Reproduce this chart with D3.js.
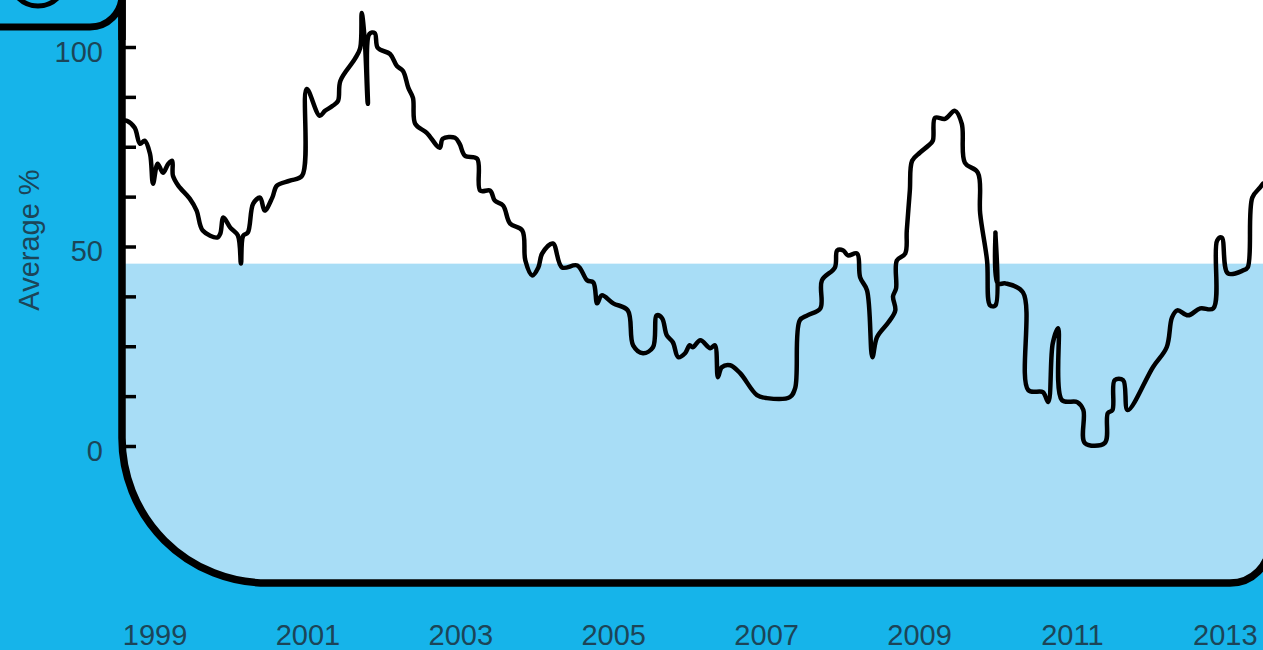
<!DOCTYPE html>
<html>
<head>
<meta charset="utf-8">
<script src="https://cdn.jsdelivr.net/npm/d3@7"></script>
<style>
  html, body { margin: 0; padding: 0; background: #16b4ea; overflow: hidden; }
  svg { display: block; }
  text { font-family: "Liberation Sans", Arial, sans-serif; }
</style>
</head>
<body>
<svg id="chart" width="1263" height="650"></svg>
<script>
// ---- data (decimal year, average %) ----
const years = [
  1998.60, 1998.64, 1998.74, 1998.81, 1998.87, 1998.94, 1998.98, 1999.04, 1999.11, 1999.18,
  1999.23, 1999.24, 1999.31, 1999.46, 1999.55, 1999.63, 1999.82, 1999.86, 1999.90, 1999.99,
  2000.09, 2000.13, 2000.16, 2000.22, 2000.29, 2000.38, 2000.44, 2000.54, 2000.60, 2000.77,
  2000.93, 2000.99, 2001.16, 2001.23, 2001.33, 2001.40, 2001.43, 2001.62, 2001.69, 2001.71,
  2001.75, 2001.79, 2001.81, 2001.88, 2001.92, 2002.08, 2002.17, 2002.25, 2002.32, 2002.38,
  2002.41, 2002.56, 2002.73, 2002.77, 2002.93, 2002.99, 2003.06, 2003.22, 2003.26, 2003.39,
  2003.45, 2003.56, 2003.65, 2003.81, 2003.85, 2003.94, 2004.02, 2004.07, 2004.21, 2004.33,
  2004.53, 2004.66, 2004.74, 2004.79, 2004.85, 2005.00, 2005.19, 2005.26, 2005.39, 2005.52,
  2005.57, 2005.64, 2005.70, 2005.78, 2005.85, 2005.94, 2006.00, 2006.04, 2006.14, 2006.27,
  2006.33, 2006.37, 2006.42, 2006.53, 2006.66, 2006.88, 2007.01, 2007.31, 2007.38, 2007.44,
  2007.54, 2007.71, 2007.73, 2007.90, 2007.93, 2008.01, 2008.07, 2008.19, 2008.23, 2008.32,
  2008.39, 2008.45, 2008.60, 2008.69, 2008.66, 2008.70, 2008.71, 2008.82, 2008.84, 2008.88,
  2008.91, 2009.01, 2009.12, 2009.18, 2009.21, 2009.34, 2009.47, 2009.56, 2009.60, 2009.77,
  2009.80, 2009.89, 2009.93, 2010.00, 2010.00, 2010.03, 2010.13, 2010.36, 2010.43, 2010.62,
  2010.69, 2010.75, 2010.82, 2010.87, 2011.07, 2011.15, 2011.17, 2011.43, 2011.47, 2011.53,
  2011.56, 2011.67, 2011.73, 2012.06, 2012.24, 2012.31, 2012.38, 2012.52, 2012.68, 2012.85,
  2012.90, 2012.96, 2013.04, 2013.24, 2013.30, 2013.36, 2013.46, 2013.50
];
const values = [
  81.5, 81.5, 79.75, 75.75, 76.5, 73.25, 65.75, 70.75, 68.5, 70.75,
  71.5, 67.75, 65.25, 62, 59, 54, 52.25, 53.25, 57.25, 54.75,
  52.75, 45.75, 52.75, 53.5, 60.75, 62.25, 59, 62.25, 65.25, 66.5,
  67.75, 89.5, 82.75, 84, 85.25, 86.5, 91.5, 97, 99.75, 108.5,
  101.5, 85.75, 103.25, 103.5, 99.75, 98.25, 95.25, 94, 89.75, 87.25,
  80.75, 78.5, 74.75, 77, 77.25, 75.75, 72.75, 72, 64, 64,
  61.5, 60.25, 55.75, 54, 46.5, 42.75, 44.75, 48.25, 50.75, 44.75,
  45.25, 41.5, 41, 35.75, 37.75, 35.75, 34, 25.25, 23.25, 24.75,
  32.75, 32, 27.75, 26, 22.25, 23.25, 25.25, 24.75, 26.5, 24.5,
  25.25, 17.25, 19.75, 20.25, 18.25, 12.75, 12, 12.25, 14.5, 31.5,
  32.75, 34.5, 41.5, 44.75, 49, 49, 47.75, 48.25, 42.25, 39,
  22.25, 27.25, 31, 34, 37.5, 39.5, 46.5, 48.25, 54, 64,
  71.5, 73.5, 75.25, 76.5, 82.25, 82, 84, 80.75, 71, 68.5,
  58.25, 46.5, 35.25, 35.25, 53.5, 40.75, 40.75, 38.5, 14, 13.5,
  11, 25.75, 29.5, 11.5, 11, 9, 0.75, 0.75, 8.25, 9,
  16.5, 16.5, 9, 19.75, 24.75, 32.25, 34, 32.75, 34.5, 34.5,
  51.5, 52.25, 43.25, 44, 44.75, 62.25, 64.75, 65.75
];
const xTickYears = [1999, 2001, 2003, 2005, 2007, 2009, 2011, 2013];
const yLabelTicks = [0, 50, 100];
const yMinorTicks = [0, 12.5, 25, 37.5, 50, 62.5, 75, 87.5, 100];
const shadeLevel = 45.7;
const yTitle = "Average %";

// ---- layout ----
const W = 1263, H = 650;
const axisX = 122, bottomY = 583;
const BLUE = "#16b4ea", PALE = "#a8ddf6", INK = "#1c4558";

const svg = d3.select("#chart");
const x = d3.scaleLinear().domain([1998.6, 2013.5]).range([124, 1263]);
const y = d3.scaleLinear().domain([0, 100]).range([446, 47]);

svg.append("rect").attr("width", W).attr("height", H).attr("fill", BLUE);

const R1 = 145, R2 = 40, rightX = 1270;
const panelPath = `M${axisX},-20 L${axisX},${bottomY - R1} A${R1},${R1} 0 0 0 ${axisX + R1},${bottomY}
  L${rightX - R2},${bottomY} A${R2},${R2} 0 0 0 ${rightX},${bottomY - R2} L${rightX},-20 Z`;

svg.append("defs").append("clipPath").attr("id", "panelClip")
  .append("path").attr("d", panelPath);

svg.append("path").attr("d", panelPath).attr("fill", "#ffffff");

const inner = svg.append("g").attr("clip-path", "url(#panelClip)");
inner.append("rect")
  .attr("x", axisX).attr("y", y(shadeLevel))
  .attr("width", W).attr("height", H - y(shadeLevel))
  .attr("fill", PALE);

const line = d3.line().x((d, i) => x(years[i])).y(d => y(d)).curve(d3.curveCatmullRom.alpha(0.5));
inner.append("path")
  .attr("d", line(values))
  .attr("fill", "none").attr("stroke", "#000")
  .attr("stroke-width", 4.5).attr("stroke-linejoin", "round").attr("stroke-linecap", "round");

// panel border
svg.append("path").attr("d", panelPath).attr("fill", "none")
  .attr("stroke", "#000").attr("stroke-width", 7.5);

// top-left box with ring
svg.append("rect").attr("x", -40).attr("y", -60).attr("width", axisX + 40).attr("height", 87)
  .attr("rx", 32).attr("fill", BLUE).attr("stroke", "#000").attr("stroke-width", 7);
svg.append("circle").attr("cx", 38).attr("cy", -22).attr("r", 28)
  .attr("fill", "none").attr("stroke", "#000").attr("stroke-width", 5);
svg.append("line").attr("x1", axisX).attr("x2", axisX).attr("y1", -5).attr("y2", 40)
  .attr("stroke", "#000").attr("stroke-width", 7.5);

// minor ticks
const tickAxis = d3.axisRight(y).tickValues(yMinorTicks).tickSize(14).tickFormat("");
const tg = svg.append("g").attr("transform", `translate(${axisX},0)`).call(tickAxis);
tg.select(".domain").remove();
tg.selectAll(".tick line").attr("stroke", "#000").attr("stroke-width", 3.5);

// y labels
const labAxis = d3.axisLeft(y).tickValues(yLabelTicks).tickSize(0).tickPadding(19).tickFormat(d3.format("d"));
const lg = svg.append("g").attr("transform", `translate(${axisX},5)`).call(labAxis);
lg.select(".domain").remove();
lg.selectAll("text").attr("font-size", 29).attr("fill", INK)
  .attr("font-family", "'Liberation Sans', Arial, sans-serif");

// x labels
const xAxis = d3.axisBottom(x).tickValues(xTickYears).tickSize(0).tickPadding(0).tickFormat(d3.format("d"));
const xg = svg.append("g").attr("transform", `translate(0,624)`).call(xAxis);
xg.select(".domain").remove();
xg.selectAll("text").attr("font-size", 29).attr("fill", INK)
  .attr("font-family", "'Liberation Sans', Arial, sans-serif");

// y title
svg.append("text")
  .attr("transform", "translate(39,240) rotate(-90)")
  .attr("text-anchor", "middle")
  .attr("font-size", 29).attr("fill", INK)
  .text(yTitle);
</script>
</body>
</html>
